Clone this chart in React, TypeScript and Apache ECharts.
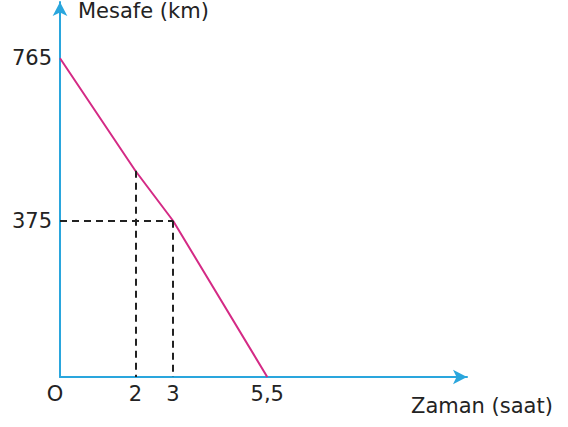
import React, { useEffect, useRef } from "react";
import * as echarts from "echarts";

// Data
const TIMES = [0, 2, 3, 5.5]; // saat
const DISTANCES = [765, 495, 375, 0]; // km
const X_TICK_VALUES = [0, 2, 3, 5.5];
const X_TICK_LABELS = ["O", "2", "3", "5,5"];
const Y_TICK_VALUES = [375, 765];
const Y_TICK_LABELS = ["375", "765"];
const X_NAME = "Zaman (saat)";
const Y_NAME = "Mesafe (km)";

const AXIS_COLOR = "#2aa6dd";
const LINE_COLOR = "#d42a85";
const TEXT_COLOR = "#232323";
const FONT = "DejaVu Sans";
const FONT_SIZE = 21;

export default function App() {
  const ref = useRef<HTMLDivElement>(null);

  useEffect(() => {
    if (!ref.current) return;
    const chart = echarts.init(ref.current, null, { renderer: "svg" });

    const near = (a: number, b: number) => Math.abs(a - b) < 1e-6;
    const xLabel = (v: number) => {
      const i = X_TICK_VALUES.findIndex((t) => near(t, v));
      if (i < 0) return "";
      return i === 0 ? `{o|${X_TICK_LABELS[i]}}` : X_TICK_LABELS[i];
    };
    const yLabel = (v: number) => {
      const i = Y_TICK_VALUES.findIndex((t) => near(t, v));
      return i >= 0 ? Y_TICK_LABELS[i] : "";
    };

    const points = TIMES.map((t, i) => [t, DISTANCES[i]]);
    // dashed guide lines from the break points
    const guide: any[] = [];
    [1, 2].forEach((i) => {
      guide.push([{ coord: [TIMES[i], DISTANCES[i]] }, { coord: [TIMES[i], 0] }]);
    });
    guide.push([{ coord: [0, DISTANCES[2]] }, { coord: [TIMES[2], DISTANCES[2]] }]);

    const axisLine = {
      show: true,
      symbol: ["none", "arrow"],
      symbolSize: [11, 14],
      lineStyle: { color: AXIS_COLOR, width: 2 },
    };

    chart.setOption({
      animation: false,
      backgroundColor: "#ffffff",
      grid: { left: 60, top: 2, width: 407, height: 375 },
      xAxis: {
        type: "value",
        min: 0,
        max: 10.8,
        interval: 0.5,
        axisLine,
        axisTick: { show: false },
        splitLine: { show: false },
        axisLabel: {
          formatter: xLabel,
          color: TEXT_COLOR,
          fontFamily: FONT,
          fontSize: FONT_SIZE,
          margin: 6,
          showMaxLabel: false,
          rich: {
            o: {
              color: TEXT_COLOR,
              fontFamily: FONT,
              fontSize: FONT_SIZE,
              padding: [0, 10, 0, 0],
            },
          },
        },
      },
      yAxis: {
        type: "value",
        min: 0,
        max: 900,
        interval: 15,
        axisLine,
        axisTick: { show: false },
        splitLine: { show: false },
        axisLabel: {
          formatter: yLabel,
          color: TEXT_COLOR,
          fontFamily: FONT,
          fontSize: FONT_SIZE,
          margin: 8,
          showMaxLabel: false,
        },
      },
      graphic: [
        {
          type: "text",
          left: 78,
          top: 0,
          style: { text: Y_NAME, fill: TEXT_COLOR, font: `${FONT_SIZE}px "${FONT}"` },
        },
        {
          type: "text",
          left: 411,
          top: 395,
          style: { text: X_NAME, fill: TEXT_COLOR, font: `${FONT_SIZE}px "${FONT}"` },
        },
      ],
      series: [
        {
          type: "line",
          data: points,
          symbol: "none",
          lineStyle: { color: LINE_COLOR, width: 2 },
          z: 3,
          markLine: {
            silent: true,
            symbol: ["none", "none"],
            label: { show: false },
            lineStyle: { color: "#222222", width: 2, type: [7, 5] },
            data: guide,
          },
        },
      ],
    });

    return () => chart.dispose();
  }, []);

  return (
    <div
      ref={ref}
      style={{ position: "absolute", left: 0, top: 0, width: 568, height: 427 }}
    />
  );
}
